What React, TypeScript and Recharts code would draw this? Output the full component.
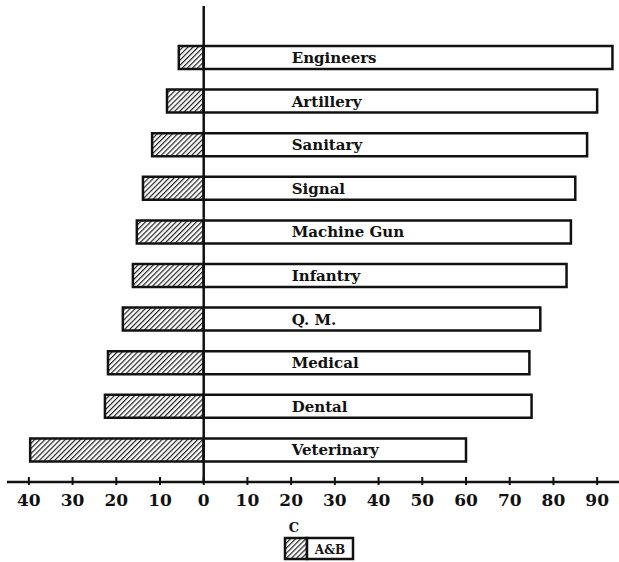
import React from 'react';
import { BarChart, Bar, XAxis, YAxis, ReferenceLine, LabelList, Legend } from 'recharts';

const branches = ['Engineers', 'Artillery', 'Sanitary', 'Signal', 'Machine Gun', 'Infantry', 'Q. M.', 'Medical', 'Dental', 'Veterinary'];
const cValues = [5.7, 8.4, 11.8, 13.9, 15.3, 16.2, 18.5, 21.9, 22.6, 39.7];
const abValues = [93.5, 90, 87.7, 85, 84, 83, 77, 74.5, 75, 60];
const xTicks = [-40, -30, -20, -10, 0, 10, 20, 30, 40, 50, 60, 70, 80, 90];
const seriesNames = { c: 'C', ab: 'A&B' };

// C drawn to the left of zero, A&B to the right
const data = branches.map((name, i) => ({ name, c: -cValues[i], ab: abValues[i] }));

const FONT = "'DejaVu Serif', 'Liberation Serif', serif";

const renderTick = (props: any) => {
    const { x, y, payload } = props;
    return (
        <g>
            <line x1={x} x2={x} y1={y - 5} y2={y + 3} stroke="#111" strokeWidth={2} />
            <text x={x} y={y + 24} textAnchor="middle" fontFamily={FONT} fontWeight="bold" fontSize={17} fill="#111">
                {Math.abs(payload.value)}
            </text>
        </g>
    );
};

const renderBranchLabel = (props: any) => {
    const { x, y, height, value } = props;
    return (
        <text x={x + 88} y={y + height / 2 + 5.5} fontFamily={FONT} fontWeight="bold" fontSize={15} fill="#111">
            {value}
        </text>
    );
};

const renderLegend = (props: any) => {
    const items = props.payload ?? [];
    const cName = items.find((p: any) => p.dataKey === 'c')?.value ?? seriesNames.c;
    const abName = items.find((p: any) => p.dataKey === 'ab')?.value ?? seriesNames.ab;
    return (
        <svg width={72} height={42}>
            <text x={11} y={12} textAnchor="middle" fontFamily={FONT} fontWeight="bold" fontSize={13} fill="#111">{cName}</text>
            <rect x={2} y={18} width={22} height={21} fill="url(#hatch)" stroke="#111" strokeWidth={2.5} />
            <rect x={24} y={18} width={46} height={21} fill="#fff" stroke="#111" strokeWidth={2.5} />
            <text x={47} y={34} textAnchor="middle" fontFamily={FONT} fontWeight="bold" fontSize={12} fill="#111">{abName}</text>
        </svg>
    );
};

export default function App() {
    return (
        <div style={{ width: 619, height: 562, background: '#fff' }}>
            <style>{'body{margin:0;}'}</style>
            <BarChart
                width={619}
                height={562}
                data={data}
                layout="vertical"
                stackOffset="sign"
                margin={{ top: 6, right: 0, bottom: 50, left: 7 }}
            >
                <defs>
                    <pattern id="hatch" patternUnits="userSpaceOnUse" width={3.6} height={3.6} patternTransform="rotate(45)">
                        <rect width={3.6} height={3.6} fill="#fff" />
                        <line x1={0} y1={0} x2={0} y2={3.6} stroke="#222" strokeWidth={2.4} />
                    </pattern>
                </defs>
                <XAxis
                    type="number"
                    domain={[-45, 95]}
                    ticks={xTicks}
                    height={30}
                    tickSize={0}
                    tickMargin={0}
                    tickLine={false}
                    axisLine={{ stroke: '#111', strokeWidth: 2.5 }}
                    tick={renderTick}
                    interval={0}
                />
                <YAxis type="category" dataKey="name" hide padding={{ top: 30, bottom: 10 }} />
                <Bar dataKey="c" name={seriesNames.c} stackId="s" barSize={23} fill="url(#hatch)" stroke="#111" strokeWidth={2.5} isAnimationActive={false} />
                <Bar dataKey="ab" name={seriesNames.ab} stackId="s" barSize={23} fill="#fff" stroke="#111" strokeWidth={2.5} isAnimationActive={false}>
                    <LabelList dataKey="name" content={renderBranchLabel} />
                </Bar>
                <ReferenceLine x={0} stroke="#111" strokeWidth={2.5} ifOverflow="extendDomain" />
                <Legend
                    layout="horizontal"
                    verticalAlign="middle"
                    align="center"
                    content={renderLegend}
                    wrapperStyle={{ position: 'absolute', left: 283, top: 520, width: 72, height: 42 }}
                />
            </BarChart>
        </div>
    );
}
